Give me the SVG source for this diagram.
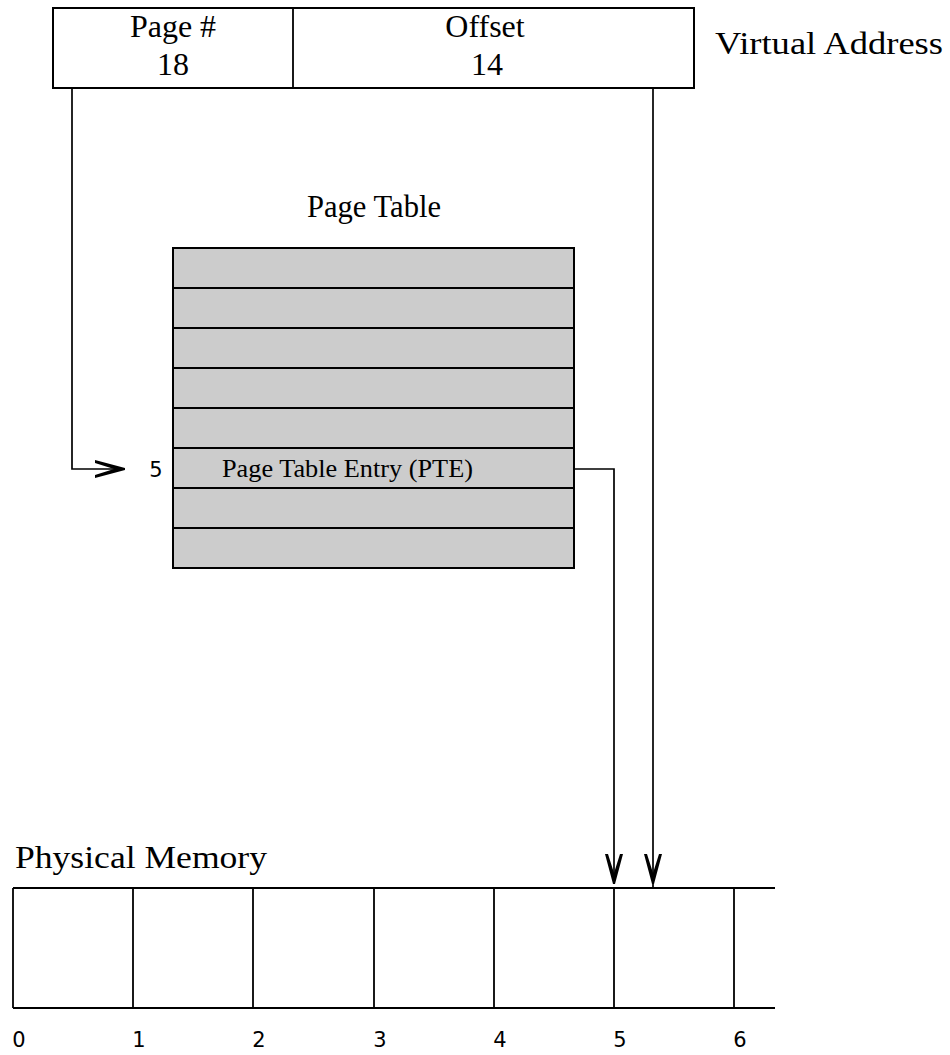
<svg xmlns="http://www.w3.org/2000/svg" width="950" height="1055" viewBox="0 0 950 1055">
  <style>
    .box { fill: #ffffff; stroke: #000000; stroke-width: 2; }
    .row { fill: #cccccc; stroke: #000000; stroke-width: 2; }
    .edge { fill: none; stroke: #000000; stroke-width: 1.8; }
    .wire { fill: none; stroke: #000000; stroke-width: 1.7; }
    .title { font-family: "Liberation Serif", "Times New Roman", serif; font-size: 32px; fill: #000000; }
    .cell { font-family: "Liberation Serif", "Times New Roman", serif; font-size: 26px; fill: #000000; }
    .num { font-family: "DejaVu Sans", "Liberation Sans", sans-serif; font-size: 21px; fill: #000000; }
  </style>
  <defs>
    <!-- heavy chevron arrowhead, tip at the end of the line -->
    <marker id="chevron" markerUnits="userSpaceOnUse" viewBox="0 0 30 18" refX="30" refY="9" markerWidth="30" markerHeight="18" orient="auto">
      <polygon points="0,0 30,8 30,10 0,18 0,15 19,9 0,3" fill="#000000"/>
    </marker>
  </defs>

  <rect width="950" height="1055" fill="#ffffff"/>

  <!-- virtual address: page number + offset -->
  <g id="virtual-address">
    <rect class="box" x="53" y="8" width="641" height="80"/>
    <line class="edge" x1="293" y1="8" x2="293" y2="88"/>
    <text class="title" x="173" y="37" text-anchor="middle">Page #</text>
    <text class="title" x="173" y="75" text-anchor="middle">18</text>
    <text class="title" x="485" y="37" text-anchor="middle">Offset</text>
    <text class="title" x="487" y="75" text-anchor="middle">14</text>
  </g>
  <g id="virtual-address-label">
    <text class="title" x="715" y="54" textLength="228" lengthAdjust="spacingAndGlyphs">Virtual Address</text>
  </g>

  <!-- page table: eight entries -->
  <g id="page-table">
    <text class="title" x="307" y="217" textLength="134" lengthAdjust="spacingAndGlyphs">Page Table</text>
    <rect class="row" x="173" y="248" width="401" height="40"/>
    <rect class="row" x="173" y="288" width="401" height="40"/>
    <rect class="row" x="173" y="328" width="401" height="40"/>
    <rect class="row" x="173" y="368" width="401" height="40"/>
    <rect class="row" x="173" y="408" width="401" height="40"/>
    <rect class="row" x="173" y="448" width="401" height="40"/>
    <rect class="row" x="173" y="488" width="401" height="40"/>
    <rect class="row" x="173" y="528" width="401" height="40"/>
    <text class="cell" x="222" y="477" textLength="251" lengthAdjust="spacingAndGlyphs">Page Table Entry (PTE)</text>
    <text class="num" x="156" y="477" text-anchor="middle">5</text>
  </g>

  <!-- physical memory frames -->
  <g id="physical-memory">
    <text class="title" x="15" y="868" textLength="252" lengthAdjust="spacingAndGlyphs">Physical Memory</text>
    <line class="edge" x1="13" y1="888" x2="775" y2="888"/>
    <line class="edge" x1="13" y1="1008" x2="775" y2="1008"/>
    <line class="edge" x1="13" y1="888" x2="13" y2="1008"/>
    <line class="edge" x1="133" y1="888" x2="133" y2="1008"/>
    <line class="edge" x1="253" y1="888" x2="253" y2="1008"/>
    <line class="edge" x1="374" y1="888" x2="374" y2="1008"/>
    <line class="edge" x1="494" y1="888" x2="494" y2="1008"/>
    <line class="edge" x1="614" y1="888" x2="614" y2="1008"/>
    <line class="edge" x1="734" y1="888" x2="734" y2="1008"/>
    <text class="num" x="19" y="1047" text-anchor="middle">0</text>
    <text class="num" x="139" y="1047" text-anchor="middle">1</text>
    <text class="num" x="259" y="1047" text-anchor="middle">2</text>
    <text class="num" x="380" y="1047" text-anchor="middle">3</text>
    <text class="num" x="500" y="1047" text-anchor="middle">4</text>
    <text class="num" x="620" y="1047" text-anchor="middle">5</text>
    <text class="num" x="740" y="1047" text-anchor="middle">6</text>
  </g>

  <!-- connectors -->
  <g id="connectors">
    <!-- page number indexes the table -->
    <polyline class="wire" points="72,88 72,469 125,469" marker-end="url(#chevron)"/>
    <!-- PTE gives the frame -->
    <polyline class="wire" points="574,469 614,469 614,884" marker-end="url(#chevron)"/>
    <!-- offset within the frame -->
    <polyline class="wire" points="653,88 653,884" marker-end="url(#chevron)"/>
    <line class="wire" x1="653" y1="880" x2="653" y2="888"/>
  </g>
</svg>
